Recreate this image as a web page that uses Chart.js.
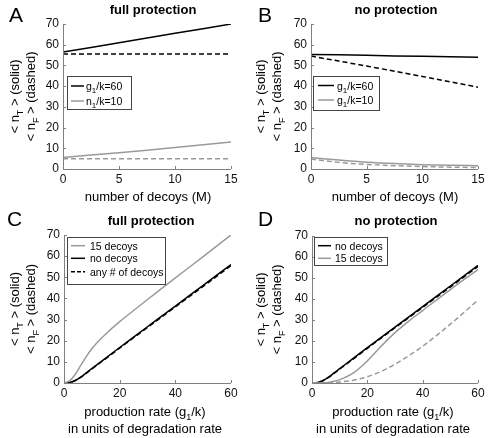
<!DOCTYPE html>
<html lang="en">
<head>
  <meta charset="UTF-8" />
  <title>Decoys: full vs no protection</title>
  <script src="https://cdn.jsdelivr.net/npm/chart.js@4.4.1/dist/chart.umd.min.js"></script>
  <style>
    body { margin: 0; background: #fff; }
    #wrap { position: relative; width: 492px; height: 438px; }
    canvas { position: absolute; display: block; }
  </style>
</head>
<body>
  <div id="wrap">
    <canvas id="chartA" width="246" height="210" style="left:0;top:0"></canvas>
    <canvas id="chartB" width="246" height="210" style="left:246px;top:0"></canvas>
    <canvas id="chartC" width="246" height="228" style="left:0;top:210px"></canvas>
    <canvas id="chartD" width="246" height="228" style="left:246px;top:210px"></canvas>
  </div>

  <script>
    // ---- data ----
    // panels A/B: x = number of decoys M
    const decoys = [0, 2.5, 5, 7.5, 10, 12.5, 15];
    const fullT60 = [56.5, 58.7, 61.0, 63.2, 65.5, 67.7, 70.0];
    const fullF60 = [55.5, 55.5, 55.5, 55.5, 55.5, 55.5, 55.5];
    const fullT10 = [5.5, 6.7, 7.9, 9.1, 10.4, 11.7, 13.0];
    const fullF10 = [5.0, 5.0, 5.0, 5.0, 5.0, 5.0, 5.0];
    const noT60 = [55.3, 55.1, 54.9, 54.6, 54.4, 54.2, 54.0];
    const noF60 = [54.5, 52.1, 49.7, 47.2, 44.7, 42.1, 39.5];
    const noT10 = [5.5, 4.3, 3.3, 2.6, 2.1, 1.8, 1.6];
    const noF10 = [4.8, 3.2, 2.2, 1.6, 1.2, 0.9, 0.7];

    // panels C/D: x = production rate g1/k
    const prodRate = [0, 2, 4, 6, 8, 10, 12, 15, 20, 25, 30, 35, 40, 50, 60];
    const noDecoyT = [0, 0.2, 1.2, 2.8, 4.8, 6.8, 8.8, 11.8, 16.8, 21.7, 26.6, 31.5, 36.4, 46.2, 56.0];
    const noDecoyF = [0, 0.2, 1.1, 2.7, 4.6, 6.6, 8.6, 11.5, 16.5, 21.4, 26.3, 31.1, 36.0, 45.7, 55.5];
    const fullT15 = [0, 1.0, 4.0, 8.3, 12.5, 16.2, 19.3, 23.2, 29.0, 34.3, 39.5, 44.6, 49.7, 59.8, 70.0];
    const noT15 = [0, 0, 0.1, 0.3, 0.8, 1.6, 2.7, 4.8, 10.5, 17.5, 24.0, 29.5, 34.5, 44.5, 54.0];
    const noF15 = [0, 0, 0, 0.05, 0.2, 0.5, 0.8, 1.3, 3.0, 5.5, 9.0, 13.0, 17.5, 28.0, 39.5];

    const yTicks = [0, 10, 20, 30, 40, 50, 60, 70];
    const decoyTicks = [0, 5, 10, 15];
    const rateTicks = [0, 20, 40, 60];

    const FONT = "'Liberation Sans', Arial, Helvetica, sans-serif";
    const BLACK = '#000';
    const GRAY = '#9a9a9a';
    const AXIS = '#808080';

    function pts(xs, ys) {
      return xs.map((x, i) => ({ x: x, y: ys[i] }));
    }

    // draw text with subscripts; parts = [[text, isSub], ...]
    function drawRich(ctx, parts, x, y, size, align) {
      const sub = Math.round(size * 0.72);
      let w = 0;
      parts.forEach(p => {
        ctx.font = (p[1] ? sub : size) + 'px ' + FONT;
        w += ctx.measureText(p[0]).width;
      });
      let cx = align === 'center' ? x - w / 2 : x;
      ctx.textAlign = 'left';
      ctx.textBaseline = 'alphabetic';
      parts.forEach(p => {
        ctx.font = (p[1] ? sub : size) + 'px ' + FONT;
        ctx.fillText(p[0], cx, y + (p[1] ? size * 0.3 : 0));
        cx += ctx.measureText(p[0]).width;
      });
    }

    const yTitle1 = [['< n', 0], ['T', 1], [' > (solid)', 0]];
    const yTitle2 = [['< n', 0], ['F', 1], [' > (dashed)', 0]];

    const decorPlugin = {
      id: 'decor',
      afterDraw(chart) {
        const o = chart.options.plugins.decor;
        const ctx = chart.ctx;
        const a = chart.chartArea;
        const xs = chart.scales.x, ys = chart.scales.y;
        ctx.save();

        // axis lines + inward ticks
        ctx.strokeStyle = AXIS;
        ctx.lineWidth = 1;
        ctx.setLineDash([]);
        ctx.beginPath();
        ctx.moveTo(a.left + 0.5, a.top);
        ctx.lineTo(a.left + 0.5, a.bottom + 0.5);
        ctx.lineTo(a.right, a.bottom + 0.5);
        xs.ticks.forEach(t => {
          const px = Math.round(xs.getPixelForValue(t.value)) + 0.5;
          ctx.moveTo(px, a.bottom);
          ctx.lineTo(px, a.bottom - 3);
        });
        ys.ticks.forEach(t => {
          const py = Math.round(ys.getPixelForValue(t.value)) + 0.5;
          ctx.moveTo(a.left, py);
          ctx.lineTo(a.left + 3, py);
        });
        ctx.stroke();

        ctx.fillStyle = '#000';
        // panel letter
        ctx.font = '21px ' + FONT;
        ctx.textAlign = 'left';
        ctx.textBaseline = 'alphabetic';
        ctx.fillText(o.letter, o.letterX, o.letterY);

        // panel title
        ctx.font = 'bold 13px ' + FONT;
        ctx.textAlign = 'center';
        ctx.fillText(o.title, o.titleX, o.titleY);

        // y axis title, two rotated lines
        const yc = (a.top + a.bottom) / 2;
        ctx.save();
        ctx.translate(19, yc);
        ctx.rotate(-Math.PI / 2);
        drawRich(ctx, yTitle1, 0, 0, 13, 'center');
        ctx.restore();
        ctx.save();
        ctx.translate(35, yc);
        ctx.rotate(-Math.PI / 2);
        drawRich(ctx, yTitle2, 0, 0, 13, 'center');
        ctx.restore();

        // x axis title lines
        o.xTitle.forEach((line, i) => {
          drawRich(ctx, line, o.xTitleX, o.xTitleY[i], 13, 'center');
        });

        // legend
        const L = o.legend;
        ctx.fillStyle = '#fff';
        ctx.fillRect(L.box[0], L.box[1], L.box[2], L.box[3]);
        ctx.strokeStyle = '#444';
        ctx.lineWidth = 1;
        ctx.strokeRect(L.box[0] + 0.5, L.box[1] + 0.5, L.box[2], L.box[3]);
        L.rows.forEach((r, i) => {
          const ry = L.rowY[i];
          ctx.strokeStyle = r.color;
          ctx.lineWidth = 1.5;
          ctx.setLineDash(r.dash ? [4, 2] : []);
          ctx.beginPath();
          ctx.moveTo(L.lineX[0], ry);
          ctx.lineTo(L.lineX[1], ry);
          ctx.stroke();
          ctx.setLineDash([]);
          ctx.fillStyle = '#000';
          drawRich(ctx, r.label, L.textX, ry + 4, 10.5, 'left');
        });
        ctx.restore();
      }
    };

    function line(data, color, dashed, smooth) {
      return {
        data: data,
        borderColor: color,
        borderWidth: 1.5,
        borderDash: dashed ? [5, 3] : [],
        pointRadius: 0,
        fill: false,
        tension: smooth ? 0.4 : 0,
        cubicInterpolationMode: smooth ? 'monotone' : 'default'
      };
    }

    function makeChart(id, cfg) {
      return new Chart(document.getElementById(id), {
        type: 'line',
        data: { datasets: cfg.datasets },
        options: {
          responsive: false,
          animation: false,
          devicePixelRatio: 1,
          layout: { padding: { left: 0, top: cfg.top, right: cfg.right, bottom: 0 } },
          plugins: { legend: { display: false }, tooltip: { enabled: false }, decor: cfg.decor },
          scales: {
            x: {
              type: 'linear',
              min: cfg.xTicks[0],
              max: cfg.xTicks[cfg.xTicks.length - 1],
              afterBuildTicks: s => { s.ticks = cfg.xTicks.map(v => ({ value: v })); },
              afterFit: s => { s.height = cfg.bottom; },
              grid: { display: false, drawTicks: false },
              border: { display: false },
              ticks: { font: { family: FONT, size: 12 }, color: '#111', padding: 3, maxRotation: 0 }
            },
            y: {
              type: 'linear',
              min: 0,
              max: 70,
              afterBuildTicks: s => { s.ticks = yTicks.map(v => ({ value: v })); },
              afterFit: s => { s.width = cfg.left; },
              grid: { display: false, drawTicks: false },
              border: { display: false },
              ticks: { font: { family: FONT, size: 12 }, color: '#111', padding: 4 }
            }
          }
        },
        plugins: [decorPlugin]
      });
    }

    const g1 = (rest) => [['g', 0], ['1', 1], [rest, 0]];

    makeChart('chartA', {
      left: 63, right: 15, top: 24, bottom: 41,
      xTicks: decoyTicks,
      datasets: [
        line(pts(decoys, fullT10), GRAY, false),
        line(pts(decoys, fullF10), GRAY, true),
        line(pts(decoys, fullT60), BLACK, false),
        line(pts(decoys, fullF60), BLACK, true)
      ],
      decor: {
        letter: 'A', letterX: 9, letterY: 22,
        title: 'full protection', titleX: 153, titleY: 14,
        xTitle: [[['number of decoys (M)', 0]]], xTitleX: 148, xTitleY: [201],
        legend: {
          box: [67, 76, 64, 33], lineX: [71, 84], textX: 86, rowY: [86, 101],
          rows: [
            { color: BLACK, label: g1('/k=60') },
            { color: GRAY, label: [['n', 0], ['1', 1], ['/k=10', 0]] }
          ]
        }
      }
    });

    makeChart('chartB', {
      left: 65, right: 14, top: 24, bottom: 41,
      xTicks: decoyTicks,
      datasets: [
        line(pts(decoys, noT10), GRAY, false, true),
        line(pts(decoys, noF10), GRAY, true, true),
        line(pts(decoys, noT60), BLACK, false),
        line(pts(decoys, noF60), BLACK, true)
      ],
      decor: {
        letter: 'B', letterX: 12, letterY: 22,
        title: 'no protection', titleX: 150, titleY: 14,
        xTitle: [[['number of decoys (M)', 0]]], xTitleX: 149, xTitleY: [201],
        legend: {
          box: [67, 76, 66, 34], lineX: [72, 88], textX: 91, rowY: [85.5, 100],
          rows: [
            { color: BLACK, label: g1('/k=60') },
            { color: GRAY, label: g1('/k=10') }
          ]
        }
      }
    });

    makeChart('chartC', {
      left: 64, right: 15, top: 25, bottom: 55,
      xTicks: rateTicks,
      datasets: [
        line(pts(prodRate, fullT15), GRAY, false, true),
        line(pts(prodRate, noDecoyT), BLACK, false, true),
        line(pts(prodRate, noDecoyF), BLACK, true, true)
      ],
      decor: {
        letter: 'C', letterX: 7, letterY: 16,
        title: 'full protection', titleX: 151, titleY: 15,
        xTitle: [[['production rate (g', 0], ['1', 1], ['/k)', 0]], [['in units of degradation rate', 0]]],
        xTitleX: 145, xTitleY: [206, 223],
        legend: {
          box: [67, 27, 98, 47], lineX: [71, 85], textX: 90, rowY: [35.7, 48.3, 61.7],
          rows: [
            { color: GRAY, label: [['15 decoys', 0]] },
            { color: BLACK, label: [['no decoys', 0]] },
            { color: BLACK, dash: true, label: [['any # of decoys', 0]] }
          ]
        }
      }
    });

    makeChart('chartD', {
      left: 66, right: 14, top: 26, bottom: 55,
      xTicks: rateTicks,
      datasets: [
        line(pts(prodRate, noF15), GRAY, true, true),
        line(pts(prodRate, noT15), GRAY, false, true),
        line(pts(prodRate, noDecoyT), BLACK, false, true),
        line(pts(prodRate, noDecoyF), BLACK, true, true)
      ],
      decor: {
        letter: 'D', letterX: 12, letterY: 16,
        title: 'no protection', titleX: 150, titleY: 15,
        xTitle: [[['production rate (g', 0], ['1', 1], ['/k)', 0]], [['in units of degradation rate', 0]]],
        xTitleX: 147, xTitleY: [206, 223],
        legend: {
          box: [68, 27, 73, 28], lineX: [72, 85], textX: 89, rowY: [35.7, 48.3],
          rows: [
            { color: BLACK, label: [['no decoys', 0]] },
            { color: GRAY, label: [['15 decoys', 0]] }
          ]
        }
      }
    });
  </script>
</body>
</html>
